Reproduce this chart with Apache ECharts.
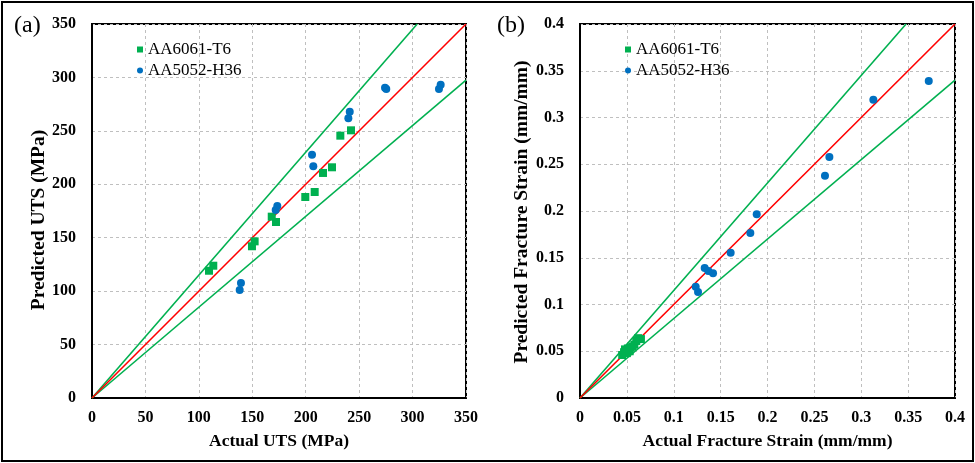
<!DOCTYPE html>
<html><head><meta charset="utf-8">
<script src="https://cdn.jsdelivr.net/npm/echarts@6/dist/echarts.min.js"></script>
<style>html,body{margin:0;padding:0;background:#fff}#c{width:975px;height:463px}</style>
</head><body><div id="c"></div>
<script>
// Panel (a): UTS [actual, predicted] in MPa
const utsAA6061 = [[109.5,119.1],[113.5,123.8],[149.7,142],[152.2,146.6],[168.2,169.7],[172.2,164.7],[199.6,188.1],[208.4,192.8],[216.2,210.6],[224.6,215.9],[232.4,245.5],[242.4,250.5]];
const utsAA5052 = [[138.2,101],[139.4,107.6],[171.9,175.9],[173.4,179.7],[205.9,227.7],[207.1,216.8],[239.9,261.7],[241.2,267.9],[274.2,290.4],[275.4,289.2],[324.7,289.2],[326.3,293.2]];
// Panel (b): fracture strain [actual, predicted] in mm/mm
const strainAA6061 = [[0.045,0.046],[0.047,0.049],[0.048,0.052],[0.050,0.048],[0.051,0.053],[0.053,0.050],[0.054,0.054],[0.056,0.055],[0.058,0.057],[0.060,0.061],[0.062,0.064],[0.065,0.063]];
const strainAA5052 = [[0.1234,0.119],[0.1259,0.1134],[0.133,0.139],[0.1369,0.1358],[0.1419,0.1334],[0.1607,0.1554],[0.1817,0.1765],[0.1885,0.1965],[0.2613,0.2378],[0.266,0.2578],[0.3129,0.319],[0.372,0.339]];
const seriesNames = ['AA6061-T6','AA5052-H36'];
const utsMax = 350, strainMax = 0.4;
const bandUpper = 1.15, bandLower = 0.85;
const utsTicks = ['0','50','100','150','200','250','300','350'];
const strainTicks = ['0','0.05','0.1','0.15','0.2','0.25','0.3','0.35','0.4'];
const xNames = ['Actual UTS (MPa)', 'Actual Fracture Strain (mm/mm)'];
const yNames = ['Predicted UTS (MPa)', 'Predicted Fracture Strain (mm/mm)'];

const GREEN = '#00b050', BLUE = '#0070c0', RED = '#ff0000';
const FONT = '"Liberation Serif","Times New Roman",serif';
const tickLabel = {fontFamily: FONT, fontWeight: 'bold', fontSize: 16, color: '#000'};
const nameStyle = {fontFamily: FONT, fontWeight: 'bold', fontSize: 17.5, color: '#000'};
const splitLine = {show: true, lineStyle: {color: '#bfbfbf', type: [3,3], width: 1}};

function axis(gi, max, interval, ticks, name, isY) {
  return {
    type: 'value', gridIndex: gi, min: 0, max: max, interval: interval,
    name: name, nameLocation: 'middle', nameGap: 34, nameTextStyle: nameStyle,
    axisLine: {show: true, onZero: false, lineStyle: {color: '#000', width: 2}},
    axisTick: {show: false},
    axisLabel: Object.assign({}, tickLabel, {margin: isY ? 16 : 12, formatter: function(v){ const i = Math.round(v/interval); return ticks[i] !== undefined ? ticks[i] : ''; }}),
    splitLine: splitLine
  };
}
function lineSeries(gi, pts, color) {
  return {type: 'line', xAxisIndex: gi, yAxisIndex: gi, data: pts, symbol: 'none', silent: true,
    lineStyle: {color: color, width: 1.6}, z: 1, animation: false};
}
function scatter(gi, name, data, sym, color) {
  return {type: 'scatter', name: name, xAxisIndex: gi, yAxisIndex: gi, data: data,
    symbol: sym, symbolSize: 8, itemStyle: {color: color, opacity: 1}, z: 3, animation: false};
}
const legendBase = {orient: 'vertical', itemWidth: 6, itemHeight: 6, itemGap: 4,
  textStyle: {fontFamily: FONT, fontSize: 17, color: '#000'}, data: [
    {name: seriesNames[0], icon: 'rect'}, {name: seriesNames[1], icon: 'circle'}]};
const yNameText = (x, y, text) => ({type: 'text', x: x, y: y, rotation: Math.PI/2,
  style: {text: text, font: 'bold 19.5px ' + FONT, fill: '#000', align: 'center', verticalAlign: 'middle'}});

const chart = echarts.init(document.getElementById('c'), null, {renderer: 'canvas'});
chart.setOption({
  animation: false,
  backgroundColor: '#fff',
  grid: [
    {left: 92, top: 24, width: 374, height: 374, show: true, borderColor: '#000', borderWidth: 2, backgroundColor: 'transparent'},
    {left: 580, top: 24, width: 375, height: 374, show: true, borderColor: '#000', borderWidth: 2, backgroundColor: 'transparent'}
  ],
  xAxis: [axis(0, utsMax, 50, utsTicks, xNames[0], false), axis(1, strainMax, 0.05, strainTicks, xNames[1], false)],
  yAxis: [axis(0, utsMax, 50, utsTicks, '', true), axis(1, strainMax, 0.05, strainTicks, '', true)],
  legend: [
    Object.assign({}, legendBase, {left: 132, top: 36}),
    Object.assign({}, legendBase, {left: 620, top: 36})
  ],
  graphic: [
    {type: 'rect', shape: {x: 2, y: 2, width: 971, height: 459}, style: {fill: 'none', stroke: '#000', lineWidth: 2}, silent: true},
    {type: 'text', left: 14, top: 14, style: {text: '(a)', font: '24px ' + FONT, fill: '#000'}},
    {type: 'text', left: 497, top: 14, style: {text: '(b)', font: '24px ' + FONT, fill: '#000'}},
    yNameText(39, 220, yNames[0]),
    yNameText(522, 212, yNames[1])
  ],
  series: [
    lineSeries(0, [[0,0],[utsMax/bandUpper, utsMax]], GREEN),
    lineSeries(0, [[0,0],[utsMax, utsMax*bandLower]], GREEN),
    lineSeries(0, [[0,0],[utsMax, utsMax]], RED),
    scatter(0, seriesNames[0], utsAA6061, 'rect', GREEN),
    scatter(0, seriesNames[1], utsAA5052, 'circle', BLUE),
    lineSeries(1, [[0,0],[strainMax/bandUpper, strainMax]], GREEN),
    lineSeries(1, [[0,0],[strainMax, strainMax*bandLower]], GREEN),
    lineSeries(1, [[0,0],[strainMax, strainMax]], RED),
    scatter(1, seriesNames[0], strainAA6061, 'rect', GREEN),
    scatter(1, seriesNames[1], strainAA5052, 'circle', BLUE)
  ]
});
</script></body></html>
